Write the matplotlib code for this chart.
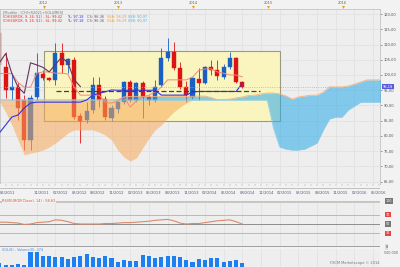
import numpy as np
import matplotlib.pyplot as plt
from matplotlib.patches import Rectangle
from matplotlib.ticker import FixedLocator, MultipleLocator, FuncFormatter

# monthly candles, index 0 = 05/2011
opens = [113.8, 102.6, 95.1, 96.1, 91.8, 78.7, 92.8, 100.3, 99.0, 98.4,
         107.2, 103.3, 104.9, 86.5, 85.2, 88.5, 96.7, 92.1, 85.9, 88.8,
         91.1, 97.7, 91.8, 97.4, 92.8, 91.8, 96.7, 105.6, 107.5, 102.3,
         96.1, 92.8, 98.7, 97.4, 102.6, 101.6, 99.3, 102.6, 105.6, 97.7]
highs = [115.5, 107.5, 100.6, 97.7, 93.4, 93.4, 107.2, 101.6, 99.5, 110.5,
         110.5, 105.5, 106.0, 87.5, 91.1, 99.3, 99.5, 93.0, 90.1, 91.5,
         98.0, 98.2, 97.8, 98.0, 93.4, 98.4, 108.9, 112.1, 110.8, 104.3,
         98.0, 99.5, 102.3, 103.0, 104.9, 104.9, 103.5, 107.5, 106.0, 98.0]
lows = [101.5, 92.5, 91.8, 85.2, 75.4, 75.4, 91.8, 98.5, 98.0, 96.7,
        100.7, 100.5, 85.5, 77.7, 84.3, 87.5, 89.5, 85.2, 85.0, 87.5,
        90.5, 91.0, 91.0, 85.9, 90.0, 91.0, 96.0, 104.5, 101.5, 95.5,
        91.1, 92.0, 91.8, 97.0, 100.0, 98.5, 98.8, 102.0, 97.3, 95.8]
closes = [103.3, 95.1, 96.0, 89.2, 78.7, 92.5, 100.6, 99.0, 98.4, 107.2,
          103.3, 105.2, 86.2, 84.9, 88.2, 96.7, 91.8, 86.2, 89.2, 91.1,
          97.7, 91.8, 97.4, 92.8, 91.8, 96.1, 105.6, 107.5, 102.3, 96.1,
          93.4, 99.0, 97.4, 102.6, 101.6, 99.7, 102.6, 105.6, 97.7, 96.18]
volumes = [154, 71, 71, 96, 71, 525, 525, 404, 404, 368,
           368, 286, 368, 404, 454, 368, 311, 382, 332, 189,
           250, 214, 214, 429, 393, 311, 368, 404, 382, 368,
           250, 189, 286, 250, 311, 311, 189, 214, 250, 132]  # thousands
rsi = [54, 54, 53, 52, 49, 50, 53, 54, 55, 59,
       58, 55, 51, 50, 50, 50, 50, 51, 51, 52,
       53, 53, 54, 55, 56, 58, 59, 60, 57, 52,
       50, 51, 51, 53, 55, 57, 58, 59, 55, 50]
sl_line = [100.5, 100.5, 100.5, 97.5, 96.0, 96.0, 100.6, 101.0, 101.0, 100.6,
           100.6, 100.3, 96.0, 93.4, 93.4, 93.4, 93.4, 91.0, 90.8, 91.5,
           92.8, 89.5, 91.5, 92.8, 93.4, 94.4, 96.0, 98.4, 98.4, 98.4,
           98.4, 99.3, 101.5, 102.0, 102.0, 101.0, 100.6, 100.0, 100.0, 99.4]
tl_line = [81.0, 83.6, 86.2, 86.9, 89.2, 90.8, 91.1, 91.1, 91.1, 91.1,
           91.1, 91.1, 91.1, 91.1, 91.8, 93.4, 94.0, 94.5, 95.1, 95.0,
           95.0, 95.0, 95.0, 95.0, 95.0, 95.0, 93.4, 93.4, 93.4, 93.4,
           93.4, 94.4, 94.6, 94.6, 94.6, 94.6, 94.6, 94.6, 94.6, 97.2]
cs_line = [104.0, 107.0, 100.5, 96.0, 94.0, 104.0, 103.3, 102.5, 101.0, 103.5,
           105.8, 104.0, 98.5, 96.2]
# cloud: upper edge (orange line), blue edge, lower edge of the orange part
span_a = [91.8] * 19 + [92.0, 92.8, 93.0, 93.0, 93.0, 93.0, 93.0, 93.0, 93.0, 93.0,
                        93.0, 93.0, 93.0, 93.1, 93.1, 92.6, 91.9, 92.0, 92.1, 92.5,
                        92.8, 93.3, 93.4, 93.8, 94.1, 94.1, 93.8, 93.1, 92.1, 92.8,
                        93.1, 93.4, 93.4, 94.4, 96.1, 96.1, 96.1, 96.4, 97.0, 97.7,
                        98.4, 98.4, 98.4, 98.4]
span_b = [91.8] * 44 + [82.6, 76.4, 75.7, 75.4, 75.4, 75.7, 76.7, 77.7, 82.0,
                        85.6, 86.2, 86.2, 88.5, 89.8, 91.1, 91.1, 91.1, 91.1, 91.1]
span_low = [91.5, 87.9, 83.6, 78.7, 73.8, 74.4, 74.8, 75.4, 76.4, 77.7,
            79.3, 81.0, 82.0, 82.0, 82.0, 82.0, 81.3, 80.3, 78.7, 75.4,
            73.1, 71.8, 72.8, 76.1, 79.3, 82.0, 83.6, 85.9, 87.9, 89.5,
            90.8, 91.8]

last_price = 96.18
box_t = (7.16, 45.0)
box_v = (84.9, 107.9)
support = 94.75
support_t = (9.1, 41.8)

date_ticks = [0, 6, 9, 12, 15, 18, 21, 24, 27, 30, 33, 36, 39, 42, 45, 48, 51, 54, 57, 60]
date_labels = ['05/2011', '11/2011', '02/2012', '05/2012', '08/2012', '11/2012',
               '02/2013', '05/2013', '08/2013', '11/2013', '02/2014', '05/2014',
               '08/2014', '11/2014', '02/2015', '05/2015', '08/2015', '11/2015',
               '02/2016', '05/2016']
years = ['2012', '2013', '2014', '2015', '2016']
year_pos = [7.1, 19.1, 31.1, 43.1, 55.1]

BG = '#eeeeee'
GRID = '#e1e1e1'
RED = '#dd1414'
BLUE = '#1a5fc4'

plt.rcParams['font.family'] = 'DejaVu Sans'
fig = plt.figure(figsize=(4, 2.67), dpi=100, facecolor='#f2f2f2')
H = 267.0

def ax_px(x0, y0, x1, y1):
    return fig.add_axes([x0 / 400, 1 - y1 / H, (x1 - x0) / 400, (y1 - y0) / H])

t = np.arange(len(closes))
tc = np.arange(len(span_a))
tl_ = np.arange(len(span_low))
xlim = (0.1, 61.1)

# ---- main price panel
ax = ax_px(0, 9, 380, 184)
ax.set_facecolor(BG)
ax.set_xlim(*xlim)
ax.set_ylim(64.26, 121.64)
ax.xaxis.set_major_locator(FixedLocator(date_ticks))
ax.yaxis.set_major_locator(MultipleLocator(5))
ax.grid(True, color=GRID, lw=0.6, zorder=0)
ax.set_axisbelow(True)
for s in ax.spines.values():
    s.set_color('#c4c4c4')
    s.set_linewidth(0.6)
ax.yaxis.tick_right()
ax.yaxis.set_minor_locator(MultipleLocator(1))
ax.yaxis.set_major_formatter(FuncFormatter(lambda v, p: f'{v:.2f}'.replace('.', ',')))
ax.tick_params(axis='y', labelsize=2.6, colors='#555555', length=1.5, width=0.4, pad=1)
ax.tick_params(axis='y', which='minor', length=0.8, width=0.3, color='#999999')
ax.tick_params(axis='x', labelbottom=False, length=0)

ax.add_patch(Rectangle((box_t[0], box_v[0]), box_t[1] - box_t[0], box_v[1] - box_v[0],
                       facecolor='#faf5bf', edgecolor='#9a9a80', lw=0.8, zorder=1))

for i in t:
    col = BLUE if closes[i] >= opens[i] else RED
    ax.vlines(i, lows[i], highs[i], color=col, lw=0.6, zorder=2)
    lo, hi = sorted((opens[i], closes[i]))
    ax.add_patch(Rectangle((i - 0.33, lo), 0.66, max(hi - lo, 0.3),
                           facecolor=col, edgecolor=col, lw=0.3, zorder=2))

a = np.array(span_a)
b = np.array(span_b)
ax.fill_between(tl_, span_low, b[:len(span_low)], color='#f7a95a', alpha=0.55, lw=0, zorder=3)
ax.fill_between(tc, a, b, where=a >= b, interpolate=True,
                color='#2aa9e9', alpha=0.55, lw=0, zorder=3)
ax.plot(tc, span_a, color='#f5b27a', lw=0.6, zorder=4)
ax.plot(tc, span_b, color='#8ccbe8', lw=0.6, zorder=4)

ax.plot(t, sl_line, color='#f08878', lw=0.7, zorder=4)
ax.plot(t, tl_line, color='#3333e0', lw=0.8, zorder=4)
ax.plot(np.arange(len(cs_line)), cs_line, color='#6a3060', lw=0.8, zorder=4)

ax.plot(support_t, [support, support], color='#404040', lw=0.9, ls=(0, (4, 2)), zorder=4)
ax.axhline(last_price, color='#a8a8e8', lw=0.6, ls=':', zorder=4)
ax.text(1.008, last_price, '96,18', transform=ax.get_yaxis_transform(), fontsize=2.6,
        color='white', va='center', ha='left',
        bbox=dict(boxstyle='square,pad=0.15', fc='#5a5ae0', ec='none'), zorder=6)

# header
hy = [12.7, 16.7, 20.7]
fig.text(2.7 / 400, 1 - hy[0] / H, '[Modèle : ICHI+R2021+VOLUMES]', fontsize=2.5,
         color='#777777', va='center')
segs = [('ICH(EUROX, 9, 26, 52) - SL: 99,42', '#e03030', 2.7),
        ('TL: 97,18', '#3838e0', 67), ('CS: 96,36', '#705070', 87),
        ('SSA: 98,29', '#f0a040', 107), ('SSB: 90,97', '#5ab0e0', 128)]
for yy in hy[1:]:
    for txt, c, x in segs:
        fig.text(x / 400, 1 - yy / H, txt, fontsize=2.5, color=c, va='center')

# ---- date strip
axd = ax_px(0, 184, 380, 197)
axd.set_xlim(*xlim)
axd.set_ylim(0, 1)
axd.set_facecolor('#f2f2f2')
axd.set_yticks([])
for s in axd.spines.values():
    s.set_visible(False)
axd.axhline(0.7, color='#b8b8b8', lw=0.6)
axd.xaxis.set_major_locator(FixedLocator(date_ticks))
axd.xaxis.set_minor_locator(MultipleLocator(1))
axd.set_xticklabels(date_labels)
axd.tick_params(axis='x', which='both', direction='in', top=True, bottom=False,
                labeltop=False, labelbottom=False, length=1.2, width=0.3, color='#999999')
for x, lab in zip(date_ticks, date_labels):
    axd.text(x + 0.8 if x else 0.1, 0.3, lab, fontsize=2.7, color='#555577',
             ha='center' if x else 'left', va='center')

# year markers on top
axy = ax_px(0, 0, 380, 9)
axy.set_xlim(*xlim)
axy.set_ylim(0, 1)
axy.axis('off')
for x, lab in zip(year_pos, years):
    axy.text(x, 0.7, lab, fontsize=2.6, color='#666666', ha='center', va='center')
    axy.plot(x, 0.2, marker='v', ms=2.2, color='#f0a020', mec='none')

# ---- RSI panel
axr = ax_px(0, 201, 380, 247)
axr.set_xlim(*xlim)
axr.set_ylim(0, 100)
axr.axis('off')
axr.add_patch(Rectangle((0, 0), 1, 1, transform=axr.transAxes, fc=BG, ec='none', zorder=0))
for x in date_ticks:
    axr.axvline(x, color=GRID, lw=0.6, zorder=1)
axr.axhline(100, color='#c4c4c4', lw=2, zorder=2)
axr.axhline(70, color='#f0a0a0', lw=0.7, zorder=2)
axr.axhline(50, color='#8c8c8c', lw=0.7, zorder=2)
axr.axhline(30, color='#f0a0a0', lw=0.7, zorder=2)
axr.axhline(0, color='#8c8c8c', lw=1.1, zorder=2)
axr.plot(t, rsi, color='#d88a68', lw=0.8, zorder=3)
axr.text(0.5, 100, 'RSI(EUROX(Close), 14) : 58,63', fontsize=2.5, color='#e05020',
         va='center', ha='left', zorder=4,
         bbox=dict(boxstyle='square,pad=0.1', fc='#f2f2f2', ec='none'))
for lvl, lab, fc in [(100, '100', '#777777'), (70, '70', '#e04848'),
                     (50, '50', '#777777'), (30, '30', '#e04848'), (0, '0', '#dddddd')]:
    axr.text(1.015, lvl, lab, transform=axr.get_yaxis_transform(), fontsize=2.4,
             color='white' if lvl else '#333333', ha='left', va='center', clip_on=False,
             bbox=dict(boxstyle='square,pad=0.2', fc=fc, ec='none'))

# ---- volume panel
axv = ax_px(0, 249, 380, 267)
axv.set_xlim(*xlim)
axv.set_ylim(0, 643)
axv.set_facecolor(BG)
for s in axv.spines.values():
    s.set_visible(False)
axv.set_xticks([])
axv.set_yticks([])
for x in date_ticks:
    axv.axvline(x, color=GRID, lw=0.6, zorder=1)
axv.bar(t, volumes, width=0.66, color='#1c80f0', zorder=2)
axv.text(0.5, 600, 'VOL(0) - Volume(0): 374', fontsize=2.4, color='#4a8ae0',
         va='center', ha='left')
axv.text(1.01, 500, '500 000', transform=axv.get_yaxis_transform(), fontsize=2.4,
         color='#666666', va='center', ha='left')
fig.text(380 / 400, 1 - 263 / H, 'FXCM Marketscope © 2014', fontsize=2.6,
         color='#777777', ha='right', va='center')

fig.savefig('out.png', dpi=100, facecolor=fig.get_facecolor())
